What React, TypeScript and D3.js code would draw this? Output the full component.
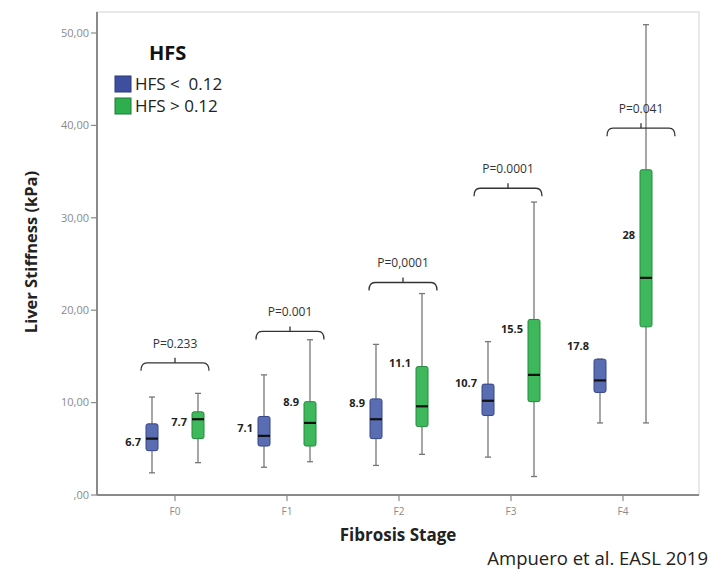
import React from 'react'
import * as d3 from 'd3'

// fibrosis stages on the x axis
const stages = ['F0', 'F1', 'F2', 'F3', 'F4']

// HFS < 0.12 (blue) box plot values, kPa
const lowMin = [2.4, 3.0, 3.2, 4.1, 7.8]
const lowQ1 = [4.8, 5.3, 6.1, 8.6, 11.1]
const lowMedian = [6.1, 6.4, 8.2, 10.2, 12.4]
const lowQ3 = [7.7, 8.5, 10.4, 12.0, 14.7]
const lowMax = [10.6, 13.0, 16.3, 16.6, 14.7]
const lowLabels = ['6.7', '7.1', '8.9', '10.7', '17.8']
const lowLabelLevel = [5.7, 7.2, 9.9, 12.1, 16.1]

// HFS > 0.12 (green) box plot values, kPa
const highMin = [3.5, 3.6, 4.4, 2.0, 7.8]
const highQ1 = [6.1, 5.3, 7.4, 10.1, 18.2]
const highMedian = [8.2, 7.8, 9.6, 13.0, 23.5]
const highQ3 = [9.0, 10.1, 13.9, 19.0, 35.2]
const highMax = [11.0, 16.8, 21.8, 31.7, 50.9]
const highLabels = ['7.7', '8.9', '11.1', '15.5', '28']
const highLabelLevel = [7.9, 10.0, 14.3, 17.9, 28.1]

// significance brackets
const pValues = ['P=0.233', 'P=0.001', 'P=0,0001', 'P=0.0001', 'P=0.041']
const bracketLevel = [14.3, 17.7, 23.0, 33.2, 39.7]

const yTicks = [0, 10, 20, 30, 40, 50]

const W = 718
const H = 572
const plot = { left: 97, right: 699, top: 12, bottom: 495 }
const bracketNudge = [0, 3, 4, -3, 18]

const blue = { fill: '#5a6db3', stroke: '#34468a', swatch: '#3d4f9f' }
const green = { fill: '#3db85a', stroke: '#26893f', swatch: '#2fae4e' }

const font = "'Open Sans', 'DejaVu Sans', sans-serif"

const fmtTick = (v: number) => (v === 0 ? ',00' : `${v},00`)

export default function App() {
  const x = d3.scalePoint<string>().domain(stages).range([175, 623])
  const y = d3.scaleLinear().domain([0, 50]).range([495, 33])
  const off = 23
  const bw = 12

  const series = [
    { dx: -off, c: blue, min: lowMin, q1: lowQ1, med: lowMedian, q3: lowQ3, max: lowMax, labels: lowLabels, lvl: lowLabelLevel },
    { dx: off, c: green, min: highMin, q1: highQ1, med: highMedian, q3: highQ3, max: highMax, labels: highLabels, lvl: highLabelLevel },
  ]

  const bracketPath = (cx: number, yTop: number, half: number) => {
    const l = cx - half
    const r = cx + half
    return `M${l},${yTop + 8} Q${l},${yTop} ${l + 6},${yTop} L${r - 6},${yTop} Q${r},${yTop} ${r},${yTop + 8}` +
      ` M${cx},${yTop} L${cx},${yTop - 5}`
  }

  return (
    <svg width={W} height={H} style={{ position: 'absolute', left: 0, top: 0, background: '#fff' }} fontFamily={font}>
      {/* plot frame */}
      <rect x={plot.left} y={plot.top} width={plot.right - plot.left} height={plot.bottom - plot.top}
        fill="none" stroke="#e2e2e2" strokeWidth={1.5} />

      {/* y axis */}
      <line x1={plot.left} x2={plot.left} y1={plot.top} y2={plot.bottom} stroke="#8a8a8a" strokeWidth={2} />
      {yTicks.map(t => (
        <g key={t}>
          <line x1={plot.left - 6} x2={plot.left} y1={y(t)} y2={y(t)} stroke="#8a8a8a" strokeWidth={1.2} />
          <text x={plot.left - 8} y={y(t)} dy="0.35em" textAnchor="end" fontSize={11} fill="#8a8a8a">{fmtTick(t)}</text>
        </g>
      ))}

      {/* x axis */}
      <line x1={plot.left} x2={plot.right} y1={plot.bottom} y2={plot.bottom} stroke="#8a8a8a" strokeWidth={2} />
      {stages.map(s => (
        <g key={s}>
          <line x1={x(s)!} x2={x(s)!} y1={plot.bottom} y2={plot.bottom + 6} stroke="#8a8a8a" strokeWidth={1.2} />
          <text x={x(s)!} y={plot.bottom + 20} textAnchor="middle" fontSize={10} fill="#8a8a8a">{s}</text>
        </g>
      ))}

      {/* boxes */}
      {series.map((sr, si) =>
        stages.map((s, i) => {
          const cx = x(s)! + sr.dx
          return (
            <g key={`${si}-${s}`}>
              <line x1={cx} x2={cx} y1={y(sr.max[i])} y2={y(sr.min[i])} stroke="#777" strokeWidth={1.3} />
              <line x1={cx - 3} x2={cx + 3} y1={y(sr.max[i])} y2={y(sr.max[i])} stroke="#777" strokeWidth={1.3} />
              <line x1={cx - 3} x2={cx + 3} y1={y(sr.min[i])} y2={y(sr.min[i])} stroke="#777" strokeWidth={1.3} />
              <rect x={cx - bw / 2} y={y(sr.q3[i])} width={bw} height={y(sr.q1[i]) - y(sr.q3[i])}
                rx={2} fill={sr.c.fill} stroke={sr.c.stroke} strokeWidth={1} />
              <line x1={cx - bw / 2} x2={cx + bw / 2} y1={y(sr.med[i])} y2={y(sr.med[i])} stroke="#111" strokeWidth={2.2} />
              <text x={cx - bw / 2 - 5} y={y(sr.lvl[i])} dy="0.35em" textAnchor="end" fontSize={11}
                fontWeight="bold" fill="#222">{sr.labels[i]}</text>
            </g>
          )
        })
      )}

      {/* p-value brackets */}
      {stages.map((s, i) => {
        const cx = x(s)! + bracketNudge[i]
        const yb = y(bracketLevel[i])
        return (
          <g key={`b-${s}`}>
            <path d={bracketPath(cx, yb, 34)} fill="none" stroke="#333" strokeWidth={1.3} />
            <text x={cx} y={yb - 15} textAnchor="middle" fontSize={12} fill="#333">{pValues[i]}</text>
          </g>
        )
      })}

      {/* legend */}
      <text x={149} y={60} fontSize={20} fontWeight="bold" fill="#111">HFS</text>
      <rect x={115} y={76} width={16} height={16} fill={blue.swatch} stroke="#2c3a78" strokeWidth={1} />
      <text x={135} y={84} dy="0.35em" fontSize={17} fill="#222" style={{ whiteSpace: 'pre' }}>{'HFS <  0.12'}</text>
      <rect x={115} y={98} width={16} height={16} fill={green.swatch} stroke="#1f7a38" strokeWidth={1} />
      <text x={135} y={106} dy="0.35em" fontSize={17} fill="#222">{'HFS > 0.12'}</text>

      {/* axis titles */}
      <text transform={`translate(37,252) rotate(-90)`} textAnchor="middle" fontSize={16.5} fontWeight="bold" fill="#222">
        Liver Stiffness (kPa)
      </text>
      <text x={398} y={541} textAnchor="middle" fontSize={17} fontWeight="bold" fill="#222">Fibrosis Stage</text>

      <text x={708} y={565} textAnchor="end" fontSize={18.5} fill="#222">
        Ampuero et al. EASL 2019
      </text>
    </svg>
  )
}
